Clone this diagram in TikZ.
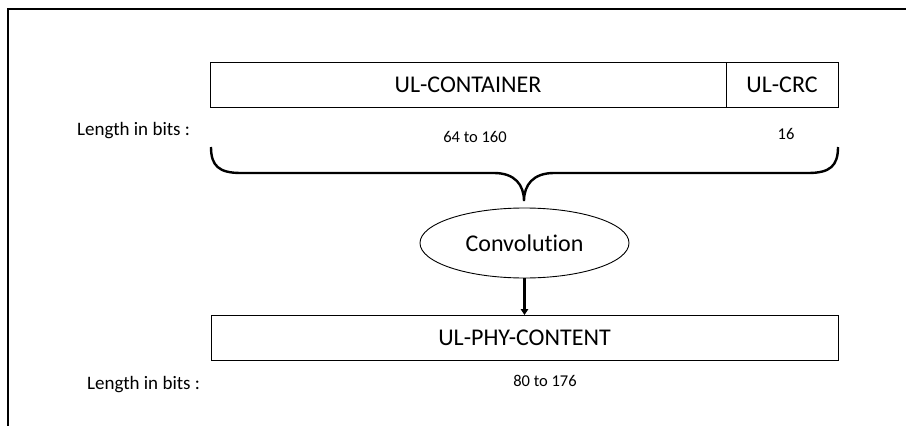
\documentclass[tikz,border=0pt]{standalone}
\usepackage{fontspec}
\setmainfont{Carlito}[Ligatures=NoCommon]
\usetikzlibrary{shapes.geometric,arrows.meta}
\begin{document}
\begin{tikzpicture}[x=1pt,y=-1pt,
  field/.style={draw,line width=1pt,minimum height=45pt,inner sep=0pt,font=\fontsize{24}{28}\selectfont},
  lenlabel/.style={font=\fontsize{19}{22}\selectfont,anchor=base west,inner sep=0pt},
  numlabel/.style={font=\fontsize{16.5}{19}\selectfont}]
\useasboundingbox (0,0) rectangle (906,426);
% frame
\draw[line width=1.8pt] (8,426) -- (8,9) -- (906,9);
% top boxes
\node[field,minimum width=516pt] (cont) at (468,85.2) {UL-CONTAINER};
\node[field,minimum width=112pt] (crc) at (782,85.2) {UL-CRC};
\node[lenlabel] (len1) at (77,135.7) {Length in bits :};
\node[numlabel] (n1) at (475,137) {64 to 160};
\node[numlabel] (n2) at (786,134) {16};
% brace
\coordinate (bl) at (211,147);
\coordinate (br) at (838,147);
\coordinate (tip) at (524,201);
\draw[line width=2.4pt] (bl) .. controls (211,166) and (219,173) .. (241,173)
  -- (494,173) .. controls (515,173) and (524,185) .. (tip)
  .. controls (524,185) and (533,173) .. (554,173)
  -- (808,173) .. controls (830,173) and (838,166) .. (br);
% convolution
\node[draw,ellipse,line width=0.9pt,minimum width=209pt,minimum height=70pt,inner sep=0pt,font=\fontsize{24}{28}\selectfont] (conv) at (524.5,243) {Convolution};
% bottom box
\node[field,minimum width=627pt] (phy) at (524.5,338) {UL-PHY-CONTENT};
\draw[line width=2.2pt,-{Triangle[length=6pt,width=7.5pt]}] (conv.south) -- (phy.north);
\node[lenlabel] (len2) at (87,389) {Length in bits :};
\node[numlabel] (n3) at (545,380.5) {80 to 176};
\end{tikzpicture}
\end{document}
